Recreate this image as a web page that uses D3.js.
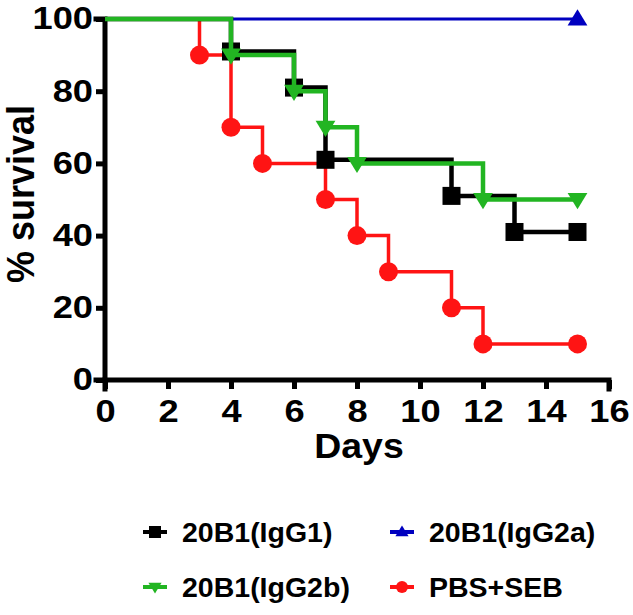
<!DOCTYPE html>
<html><head><meta charset="utf-8">
<script src="https://cdn.jsdelivr.net/npm/d3@7"></script>
<style>html,body{margin:0;padding:0;background:#fff;}svg text{font-family:"Liberation Sans",Arial,sans-serif;font-weight:bold;}</style>
</head><body>
<svg id="c" width="633" height="615"></svg>
<script>
const seriesNames = ["20B1(IgG1)", "20B1(IgG2a)", "20B1(IgG2b)", "PBS+SEB"];
const seriesColors = ["#000000", "#0000C0", "#22B522", "#FF1414"];
const seriesSymbols = ["square", "triangleUp", "triangleDown", "circle"];
const igg1Days = [0, 4, 6, 7, 11, 13, 15];
const igg1Surv = [100, 91, 81, 61, 51, 41, 41];
const igg2aDays = [0, 15];
const igg2aSurv = [100, 100];
const igg2bDays = [0, 4, 6, 7, 8, 12, 15];
const igg2bSurv = [100, 90, 80, 70, 60, 50, 50];
const pbsDays = [0, 3, 4, 5, 7, 8, 9, 11, 12, 15];
const pbsSurv = [100, 90, 70, 60, 50, 40, 30, 20, 10, 10];
const xTicks = [0, 2, 4, 6, 8, 10, 12, 14, 16];
const yTicks = [0, 20, 40, 60, 80, 100];

const svg = d3.select("#c");
const x = d3.scaleLinear().domain([0, 16]).range([105, 609]);
const y = d3.scaleLinear().domain([0, 100]).range([380, 19]);

function stretch(sel, f) {
  sel.each(function() {
    const w = this.getComputedTextLength();
    d3.select(this).attr("textLength", w * f).attr("lengthAdjust", "spacingAndGlyphs");
  });
}

const series = [
  {name: seriesNames[0], color: seriesColors[0], sym: seriesSymbols[0], days: igg1Days, surv: igg1Surv, w: 4.5},
  {name: seriesNames[1], color: seriesColors[1], sym: seriesSymbols[1], days: igg2aDays, surv: igg2aSurv, w: 3},
  {name: seriesNames[2], color: seriesColors[2], sym: seriesSymbols[2], days: igg2bDays, surv: igg2bSurv, w: 4.5},
  {name: seriesNames[3], color: seriesColors[3], sym: seriesSymbols[3], days: pbsDays, surv: pbsSurv, w: 3.5}
];

function drawSymbol(g, sym, cx, cy, size, color) {
  if (sym === "square") {
    g.append("rect").attr("x", cx - size/2).attr("y", cy - size/2).attr("width", size).attr("height", size).attr("fill", color);
  } else if (sym === "circle") {
    g.append("circle").attr("cx", cx).attr("cy", cy).attr("r", size/2).attr("fill", color);
  } else if (sym === "triangleUp") {
    const h = size * 0.9, w = size * 1.1;
    g.append("path").attr("d", `M${cx},${cy - h*0.6}L${cx + w/2},${cy + h*0.4}L${cx - w/2},${cy + h*0.4}Z`).attr("fill", color);
  } else {
    const h = size * 0.9, w = size * 1.1;
    g.append("path").attr("d", `M${cx},${cy + h*0.6}L${cx + w/2},${cy - h*0.4}L${cx - w/2},${cy - h*0.4}Z`).attr("fill", color);
  }
}

// axes
const xAxis = svg.append("g").attr("transform", "translate(0,380)")
  .call(d3.axisBottom(x).tickValues(xTicks).tickSize(9).tickPadding(11).tickFormat(d3.format("d")));
const yAxis = svg.append("g").attr("transform", "translate(105,0)")
  .call(d3.axisLeft(y).tickValues(yTicks).tickSize(9).tickPadding(3).tickFormat(d3.format("d")));
[xAxis, yAxis].forEach(a => {
  a.select(".domain").attr("stroke", "#000").attr("stroke-width", 5).attr("stroke-linecap", "square");
  a.selectAll(".tick line").attr("stroke", "#000").attr("stroke-width", 5);
  a.selectAll(".tick text").attr("fill", "#000").style("font-size", "31px");
  stretch(a.selectAll(".tick text"), 1.17);
});
xAxis.select(".domain").attr("d", `M${x(0)},9V0H${x(16)}V9`);
yAxis.select(".domain").attr("d", `M-9,${y(100)}H0V${y(0)}H-9`);

// order of drawing: red, blue, black, green
const order = [3, 1, 0, 2];
const line = d3.line().x(d => x(d[0])).y(d => y(d[1])).curve(d3.curveStepAfter);
order.forEach(i => {
  const s = series[i];
  const pts = s.days.map((d, k) => [d, s.surv[k]]);
  const g = svg.append("g");
  g.append("path").attr("d", line(pts)).attr("fill", "none").attr("stroke", s.color).attr("stroke-width", s.w);
  pts.slice(1).forEach(p => drawSymbol(g, s.sym, x(p[0]), y(p[1]), s.sym === "circle" ? 19 : 18, s.color));
});

// axis titles
const dt = svg.append("text").attr("x", 359).attr("y", 458).attr("text-anchor", "middle").style("font-size", "35px").text("Days");
stretch(dt, 1.07);
svg.append("text").attr("transform", "translate(34,194) scale(1.08,1) rotate(-90)").attr("text-anchor", "middle").style("font-size", "36px").text("% survival");

// legend
const legPos = [[143, 532], [390, 532], [143, 587], [390, 587]];
series.forEach((s, i) => {
  const [lx, ly] = legPos[i];
  const g = svg.append("g");
  g.append("line").attr("x1", lx).attr("x2", lx + 24).attr("y1", ly).attr("y2", ly).attr("stroke", s.color).attr("stroke-width", 4);
  drawSymbol(g, s.sym, lx + 12, ly, 12, s.color);
  g.append("text").attr("x", lx + 39).attr("y", ly + 10).style("font-size", "28.5px").attr("fill", "#000").text(s.name);
});
</script>
</body></html>
